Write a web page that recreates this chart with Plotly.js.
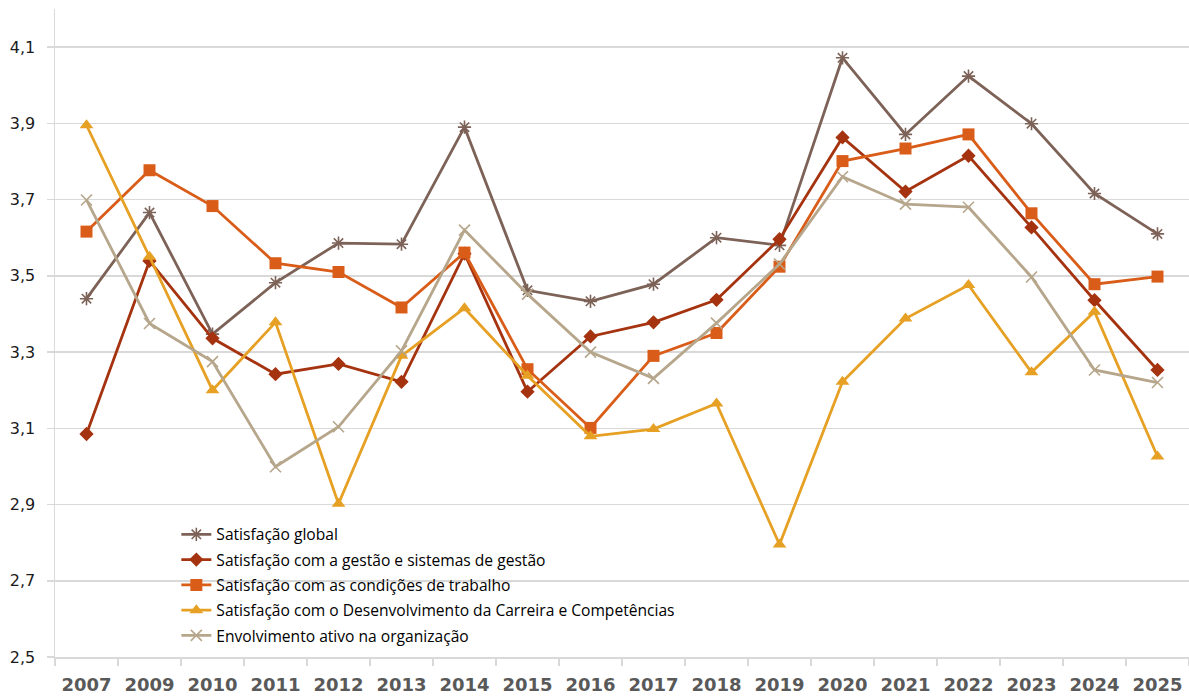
<!DOCTYPE html>
<html>
<head>
<meta charset="utf-8">
<script src="https://cdn.plot.ly/plotly-3.0.1.min.js"></script>
<style>
  html, body { margin: 0; padding: 0; background: #ffffff; }
  #chart { width: 1189px; height: 697px; }
</style>
</head>
<body>
<div id="chart"></div>
<script>
// Survey years (category axis)
const years = ['2007','2009','2010','2011','2012','2013','2014','2015','2016',
               '2017','2018','2019','2020','2021','2022','2023','2024','2025'];

// Series names
const nameGlobal    = 'Satisfação global';
const nameGestao    = 'Satisfação com a gestão e sistemas de gestão';
const nameCondicoes = 'Satisfação com as condições de trabalho';
const nameCarreira  = 'Satisfação com o Desenvolvimento da Carreira e Competências';
const nameEnvolv    = 'Envolvimento ativo na organização';

// Average scores per year
const satisfacaoGlobal = [3.44, 3.666, 3.347, 3.482, 3.586, 3.583, 3.89, 3.462, 3.433,
                          3.478, 3.60, 3.58, 4.072, 3.871, 4.024, 3.899, 3.716, 3.61];
const satisfacaoGestao = [3.085, 3.539, 3.336, 3.242, 3.269, 3.222, 3.558, 3.196, 3.341,
                          3.378, 3.437, 3.596, 3.863, 3.721, 3.815, 3.627, 3.436, 3.253];
const satisfacaoCondicoes = [3.616, 3.777, 3.683, 3.533, 3.51, 3.417, 3.561, 3.255, 3.101,
                             3.29, 3.35, 3.524, 3.801, 3.834, 3.871, 3.664, 3.478, 3.498];
const satisfacaoCarreira = [3.895, 3.55, 3.20, 3.378, 2.902, 3.29, 3.415, 3.238, 3.079,
                            3.098, 3.165, 2.795, 3.222, 3.388, 3.476, 3.247, 3.406, 3.026];
const envolvimentoAtivo = [3.699, 3.375, 3.275, 2.999, 3.104, 3.303, 3.62, 3.452, 3.30,
                           3.231, 3.376, 3.531, 3.76, 3.688, 3.68, 3.497, 3.253, 3.22];

function serie(name, values, color, symbol, size, group) {
  const open = symbol.indexOf('open') >= 0;
  return {
    type: 'scatter',
    mode: 'lines+markers',
    name: name,
    x: years,
    y: values,
    legendgroup: group,
    line: { color: color, width: 2.8 },
    marker: {
      symbol: symbol,
      size: size,
      color: color,
      line: { color: color, width: open ? 1.6 : 0 }
    },
    cliponaxis: false
  };
}

const data = [
  serie(nameGlobal,    satisfacaoGlobal,    '#7D6258', 'asterisk-open', 11, 'g1'),
  serie(nameGestao,    satisfacaoGestao,    '#A5330F', 'diamond',       11, 'g2'),
  serie(nameCondicoes, satisfacaoCondicoes, '#D95C18', 'square',        12, 'g3'),
  serie(nameCarreira,  satisfacaoCarreira,  '#E6A024', 'triangle-up',   12, 'g4'),
  serie(nameEnvolv,    envolvimentoAtivo,   '#B6A68B', 'x-thin-open',   11, 'g5')
];

const layout = {
  width: 1189,
  height: 697,
  paper_bgcolor: '#ffffff',
  plot_bgcolor: '#ffffff',
  separators: ', ',
  margin: { l: 55, r: 0, t: 9, b: 40 },
  showlegend: true,
  legend: {
    x: 0.107, xanchor: 'left',
    y: 0.215, yanchor: 'top',
    bgcolor: 'rgba(0,0,0,0)',
    borderwidth: 0,
    tracegroupgap: 2,
    font: { family: 'Open Sans, sans-serif', size: 15.6, color: '#000000' }
  },
  xaxis: {
    type: 'category',
    range: [-0.5, years.length - 0.5],
    showgrid: false,
    showline: true,
    linecolor: '#d9d9d9',
    linewidth: 1.5,
    ticks: 'outside',
    tickson: 'boundaries',
    ticklen: 7,
    tickwidth: 1.5,
    tickcolor: '#d9d9d9',
    tickangle: 0,
    ticklabelstandoff: 11,
    tickfont: { family: 'DejaVu Sans, sans-serif', size: 18, color: '#595959', weight: 'bold' },
    zeroline: false
  },
  yaxis: {
    range: [2.5, 4.2],
    tick0: 2.5,
    dtick: 0.2,
    tickformat: '.1f',
    showgrid: true,
    gridcolor: '#d9d9d9',
    gridwidth: 1.5,
    showline: true,
    linecolor: '#d9d9d9',
    linewidth: 1.5,
    ticks: 'outside',
    ticklen: 7,
    tickwidth: 1.5,
    tickcolor: '#d9d9d9',
    ticklabelstandoff: 8,
    tickfont: { family: 'DejaVu Sans, sans-serif', size: 16, color: '#1a1a1a' },
    zeroline: false
  }
};

Plotly.newPlot('chart', data, layout, { displayModeBar: false, staticPlot: true });
</script>
</body>
</html>
